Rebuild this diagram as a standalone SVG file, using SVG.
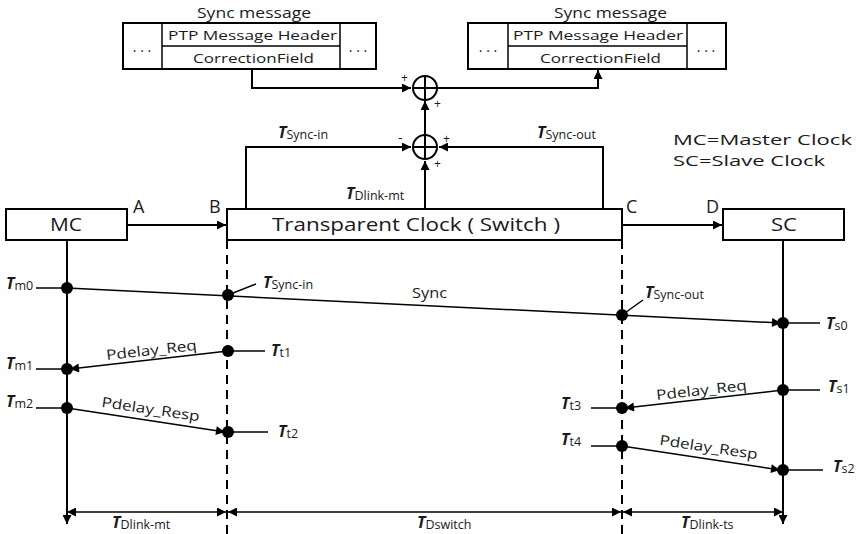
<svg xmlns="http://www.w3.org/2000/svg" width="862" height="534" viewBox="0 0 862 534">
<defs>
<marker id="ah" viewBox="0 0 10 10" refX="10" refY="5" markerWidth="12" markerHeight="9" markerUnits="userSpaceOnUse" orient="auto-start-reverse"><path d="M0,0 L10,5 L0,10 z" fill="#000"/></marker>
<style>
.ln{stroke:#000;stroke-width:2;fill:none}
.thin{stroke:#000;stroke-width:1.5;fill:none}
.dash{stroke:#000;stroke-width:2;fill:none;stroke-dasharray:9,6}
.box{fill:#fff;stroke:#000;stroke-width:2}
.t{font-family:"Open Sans","Noto Sans","DejaVu Sans",sans-serif;fill:#1a1a1a}
.T{font-style:italic;font-weight:bold;font-size:16px}
.s{font-size:12.5px}
.dot{fill:#000}
</style>
</defs>
<rect width="862" height="534" fill="#fff"/>

<g id="msg-left">
<text class="t" x="197" y="18" font-size="15" textLength="114" lengthAdjust="spacingAndGlyphs">Sync message</text>
<rect class="box" x="123" y="23" width="253" height="46"/>
<line class="thin" x1="162" y1="23" x2="162" y2="69"/>
<line class="thin" x1="340" y1="23" x2="340" y2="69"/>
<line class="thin" x1="162" y1="46" x2="340" y2="46"/>
<text class="t" x="168" y="40" font-size="13.5" textLength="169" lengthAdjust="spacingAndGlyphs">PTP Message Header</text>
<text class="t" x="193" y="63" font-size="13.5" textLength="121" lengthAdjust="spacingAndGlyphs">CorrectionField</text>
<text class="t" x="142" y="52" font-size="14" text-anchor="middle">. . .</text>
<text class="t" x="358" y="52" font-size="14" text-anchor="middle">. . .</text>
</g>
<g id="msg-right">
<text class="t" x="554" y="18" font-size="15" textLength="113" lengthAdjust="spacingAndGlyphs">Sync message</text>
<rect class="box" x="468" y="23" width="258" height="46"/>
<line class="thin" x1="508" y1="23" x2="508" y2="69"/>
<line class="thin" x1="687" y1="23" x2="687" y2="69"/>
<line class="thin" x1="508" y1="46" x2="687" y2="46"/>
<text class="t" x="513" y="40" font-size="13.5" textLength="170" lengthAdjust="spacingAndGlyphs">PTP Message Header</text>
<text class="t" x="540" y="63" font-size="13.5" textLength="121" lengthAdjust="spacingAndGlyphs">CorrectionField</text>
<text class="t" x="488" y="52" font-size="14" text-anchor="middle">. . .</text>
<text class="t" x="706" y="52" font-size="14" text-anchor="middle">. . .</text>
</g>

<g id="sum-top">
<circle cx="425" cy="88" r="12" fill="#fff" stroke="#000" stroke-width="2"/>
<line class="ln" x1="413" y1="88" x2="437" y2="88"/>
<line class="ln" x1="425" y1="76" x2="425" y2="100"/>
</g>
<g id="sum-bottom">
<circle cx="425" cy="147" r="12" fill="#fff" stroke="#000" stroke-width="2"/>
<line class="ln" x1="413" y1="147" x2="437" y2="147"/>
<line class="ln" x1="425" y1="135" x2="425" y2="159"/>
</g>

<g id="MC">
<rect class="box" x="6" y="209" width="121" height="31"/>
<text class="t" x="50" y="231" font-size="18" textLength="32" lengthAdjust="spacingAndGlyphs">MC</text>
</g>
<g id="TC">
<rect class="box" x="227" y="209" width="395" height="31"/>
<text class="t" x="272" y="231" font-size="18" textLength="288" lengthAdjust="spacingAndGlyphs">Transparent Clock ( Switch )</text>
</g>
<g id="SC">
<rect class="box" x="723" y="209" width="121" height="31"/>
<text class="t" x="771" y="231" font-size="18" textLength="26" lengthAdjust="spacingAndGlyphs">SC</text>
</g>

<g id="legend">
<text class="t" x="673" y="145" font-size="15" textLength="179" lengthAdjust="spacingAndGlyphs">MC=Master Clock</text>
<text class="t" x="673" y="166" font-size="15" textLength="152" lengthAdjust="spacingAndGlyphs">SC=Slave Clock</text>
</g>

<g id="connectors">
<polyline class="ln" points="252,69 252,88 411,88" marker-end="url(#ah)"/>
<polyline class="ln" points="437,88 598,88 598,70" marker-end="url(#ah)"/>
<line class="ln" x1="425" y1="135" x2="425" y2="101" marker-end="url(#ah)"/>
<polyline class="ln" points="246,209 246,147 411,147" marker-end="url(#ah)"/>
<polyline class="ln" points="603,209 603,147 439,147" marker-end="url(#ah)"/>
<line class="ln" x1="425" y1="209" x2="425" y2="161" marker-end="url(#ah)"/>
<line class="ln" x1="127" y1="225" x2="226" y2="225" marker-end="url(#ah)"/>
<line class="ln" x1="622" y1="225" x2="722" y2="225" marker-end="url(#ah)"/>

<line class="ln" x1="67" y1="240" x2="67" y2="524" marker-end="url(#ah)"/>
<line class="ln" x1="783" y1="240" x2="783" y2="524" marker-end="url(#ah)"/>
<line class="dash" x1="227" y1="240" x2="227" y2="534"/>
<line class="dash" x1="622" y1="240" x2="622" y2="534"/>

<line class="thin" x1="67" y1="288" x2="781" y2="323" marker-end="url(#ah)"/>
<line class="thin" x1="36" y1="288" x2="67" y2="288"/>
<line class="thin" x1="783" y1="323" x2="820" y2="323"/>
<line class="thin" x1="228" y1="295" x2="256" y2="284"/>
<line class="thin" x1="622" y1="315" x2="643" y2="300"/>

<line class="thin" x1="228" y1="351" x2="70" y2="369" marker-end="url(#ah)"/>
<line class="thin" x1="228" y1="351" x2="265" y2="351"/>
<line class="thin" x1="36" y1="369" x2="67" y2="369"/>
<line class="thin" x1="67" y1="408" x2="225" y2="432" marker-end="url(#ah)"/>
<line class="thin" x1="36" y1="408" x2="67" y2="408"/>
<line class="thin" x1="228" y1="432" x2="268" y2="432"/>

<line class="thin" x1="783" y1="390" x2="625" y2="408" marker-end="url(#ah)"/>
<line class="thin" x1="783" y1="390" x2="820" y2="390"/>
<line class="thin" x1="591" y1="408" x2="622" y2="408"/>
<line class="thin" x1="622" y1="446" x2="780" y2="470" marker-end="url(#ah)"/>
<line class="thin" x1="591" y1="446" x2="622" y2="446"/>
<line class="thin" x1="783" y1="470" x2="823" y2="470"/>

<line class="thin" x1="67" y1="512" x2="226" y2="512" marker-start="url(#ah)" marker-end="url(#ah)"/>
<line class="thin" x1="228" y1="512" x2="621" y2="512" marker-start="url(#ah)" marker-end="url(#ah)"/>
<line class="thin" x1="623" y1="512" x2="783" y2="512" marker-start="url(#ah)" marker-end="url(#ah)"/>
</g>

<g id="dots">
<circle class="dot" cx="67" cy="288" r="6"/>
<circle class="dot" cx="228" cy="295" r="6"/>
<circle class="dot" cx="622" cy="315" r="6"/>
<circle class="dot" cx="783" cy="323" r="6"/>
<circle class="dot" cx="228" cy="351" r="6"/>
<circle class="dot" cx="67" cy="369" r="6"/>
<circle class="dot" cx="67" cy="408" r="6"/>
<circle class="dot" cx="228" cy="432" r="6"/>
<circle class="dot" cx="783" cy="390" r="6"/>
<circle class="dot" cx="622" cy="408" r="6"/>
<circle class="dot" cx="622" cy="446" r="6"/>
<circle class="dot" cx="783" cy="470" r="6"/>
</g>

<g id="labels">
<text class="t" x="401" y="82" font-size="12">+</text>
<text class="t" x="434" y="108" font-size="12">+</text>
<text class="t" x="398" y="143" font-size="14">-</text>
<text class="t" x="443" y="143" font-size="12">+</text>
<text class="t" x="434" y="168" font-size="12">+</text>

<text class="t" x="278" y="138"><tspan class="T">T</tspan><tspan class="s" dy="1">Sync-in</tspan></text>
<text class="t" x="537" y="138"><tspan class="T">T</tspan><tspan class="s" dy="1">Sync-out</tspan></text>
<text class="t" x="346" y="199"><tspan class="T">T</tspan><tspan class="s" dy="1">Dlink-mt</tspan></text>

<text class="t" x="133" y="213" font-size="18">A</text>
<text class="t" x="209" y="213" font-size="18">B</text>
<text class="t" x="626" y="213" font-size="18">C</text>
<text class="t" x="706" y="213" font-size="18">D</text>

<text class="t" x="6" y="289"><tspan class="T">T</tspan><tspan class="s" dy="1">m0</tspan></text>
<text class="t" x="263" y="288"><tspan class="T">T</tspan><tspan class="s" dy="1">Sync-in</tspan></text>
<text class="t" x="645" y="298"><tspan class="T">T</tspan><tspan class="s" dy="1">Sync-out</tspan></text>
<text class="t" x="412" y="298" font-size="14" textLength="35" lengthAdjust="spacingAndGlyphs">Sync</text>
<text class="t" x="826" y="329"><tspan class="T">T</tspan><tspan class="s" dy="1">s0</tspan></text>

<text class="t" x="271" y="356"><tspan class="T">T</tspan><tspan class="s" dy="1">t1</tspan></text>
<text class="t" x="6" y="369"><tspan class="T">T</tspan><tspan class="s" dy="1">m1</tspan></text>
<text class="t" x="6" y="407"><tspan class="T">T</tspan><tspan class="s" dy="1">m2</tspan></text>
<text class="t" x="278" y="437"><tspan class="T">T</tspan><tspan class="s" dy="1">t2</tspan></text>
<text class="t" x="152" y="355" font-size="14" text-anchor="middle" textLength="91" lengthAdjust="spacingAndGlyphs" transform="rotate(-6.4 152 355)">Pdelay_Req</text>
<text class="t" x="150" y="414" font-size="14" text-anchor="middle" textLength="99" lengthAdjust="spacingAndGlyphs" transform="rotate(8.5 150 414)">Pdelay_Resp</text>

<text class="t" x="828" y="392"><tspan class="T">T</tspan><tspan class="s" dy="1">s1</tspan></text>
<text class="t" x="561" y="409"><tspan class="T">T</tspan><tspan class="s" dy="1">t3</tspan></text>
<text class="t" x="561" y="445"><tspan class="T">T</tspan><tspan class="s" dy="1">t4</tspan></text>
<text class="t" x="833" y="472"><tspan class="T">T</tspan><tspan class="s" dy="1">s2</tspan></text>
<text class="t" x="702" y="395" font-size="14" text-anchor="middle" textLength="91" lengthAdjust="spacingAndGlyphs" transform="rotate(-6.4 702 395)">Pdelay_Req</text>
<text class="t" x="708" y="452" font-size="14" text-anchor="middle" textLength="99" lengthAdjust="spacingAndGlyphs" transform="rotate(8.5 708 452)">Pdelay_Resp</text>

<text class="t" x="112" y="528"><tspan class="T">T</tspan><tspan class="s" dy="1">Dlink-mt</tspan></text>
<text class="t" x="417" y="528"><tspan class="T">T</tspan><tspan class="s" dy="1">Dswitch</tspan></text>
<text class="t" x="681" y="528"><tspan class="T">T</tspan><tspan class="s" dy="1">Dlink-ts</tspan></text>
</g>
</svg>
